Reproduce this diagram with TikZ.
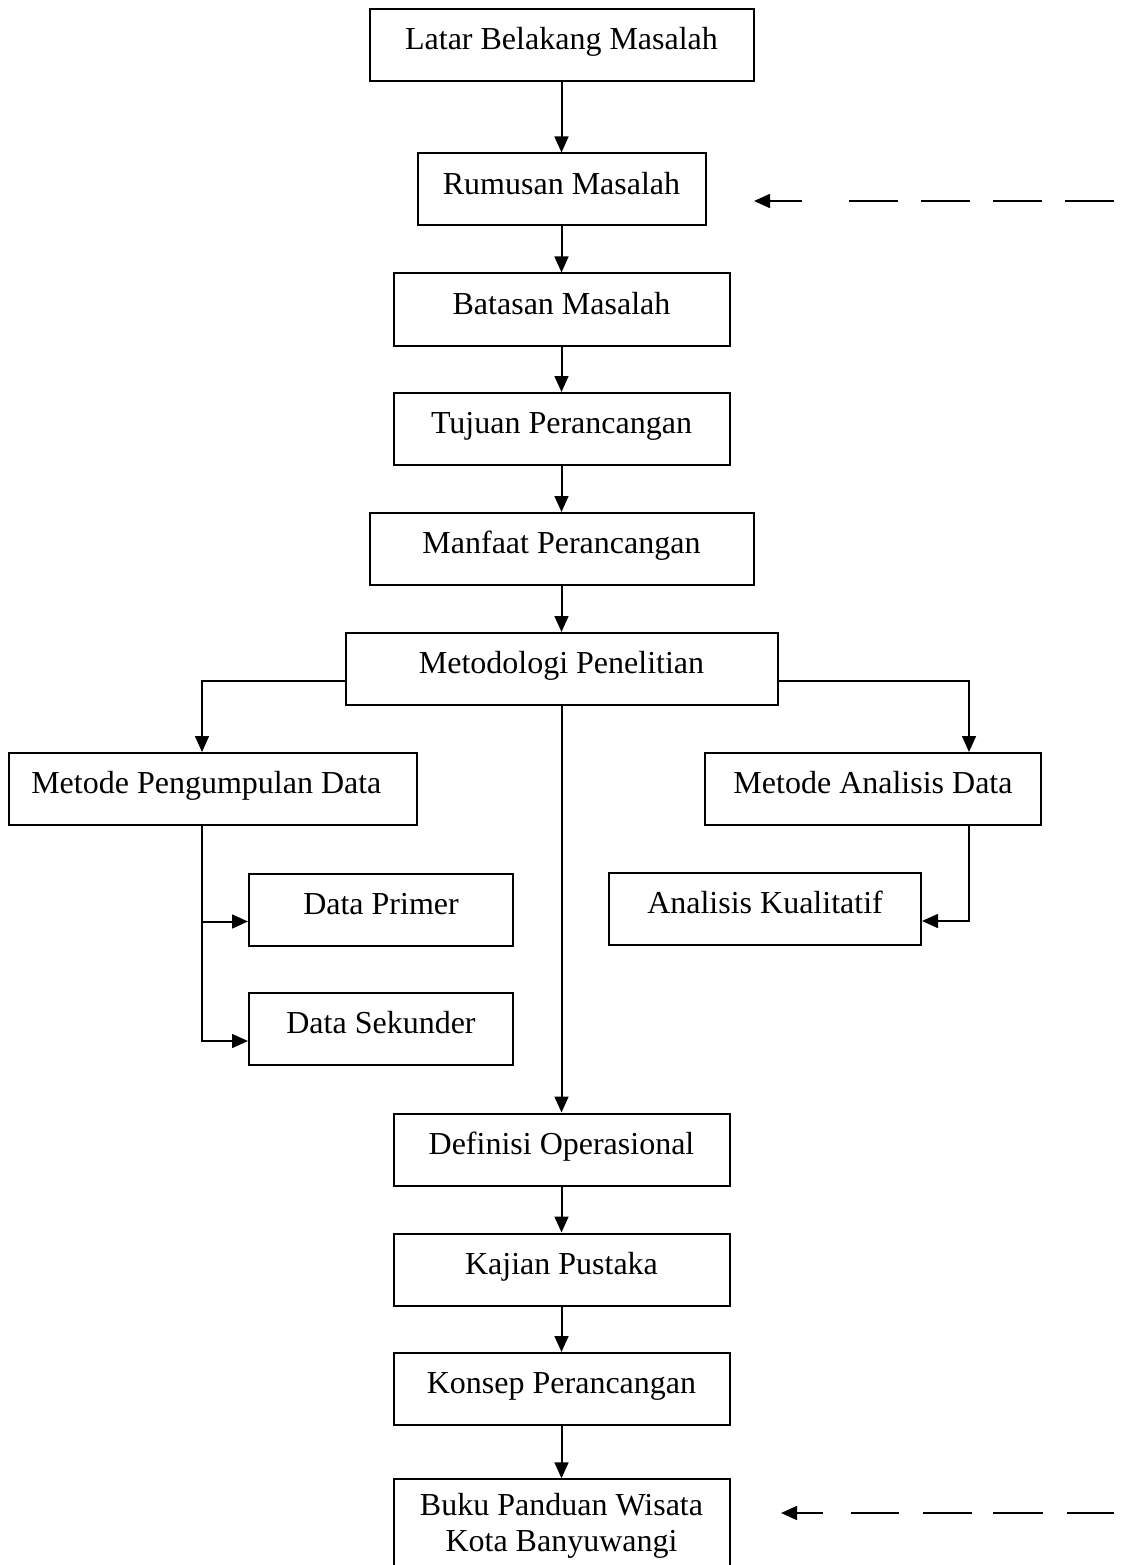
\documentclass[tikz,border=0pt]{standalone}
\usepackage{fontspec}
\setmainfont{Liberation Serif}
\usetikzlibrary{arrows.meta,positioning,calc}

\tikzset{
  box/.style={draw,line width=0.75pt,minimum height=27pt,inner sep=2pt,
    text height=7.6pt,text depth=4pt,
    font=\fontsize{12}{13.5}\selectfont,align=center},
  arr/.style={line width=0.75pt,-{Triangle[length=6pt,width=5.2pt]}},
  noteA/.style={arr,dash pattern=on 18.4pt off 8.6pt on 18.4pt off 8.6pt on 18.4pt off 8.6pt on 18.4pt off 17.6pt on 40pt off 10pt},
  noteB/.style={arr,dash pattern=on 17.6pt off 9pt on 18.8pt off 7.9pt on 18.4pt off 9pt on 18pt off 10.5pt on 40pt off 10pt}
}

\begin{document}
\begin{tikzpicture}[x=0.375pt,y=-0.375pt]
  \useasboundingbox (0,0) rectangle (1136,1565);

  % main column
  \node[box,minimum width=144pt] (latar) at (561.5,45) {Latar Belakang Masalah};
  \node[box,minimum width=108pt] (rumusan) at (561.5,189.5) {Rumusan Masalah};
  \node[box,minimum width=126pt] (batasan) at (561.5,309.5) {Batasan Masalah};
  \node[box,minimum width=126pt] (tujuan) at (561.5,429) {Tujuan Perancangan};
  \node[box,minimum width=144pt] (manfaat) at (561.5,549) {Manfaat Perancangan};
  \node[box,minimum width=162pt] (metodologi) at (561.5,669) {Metodologi Penelitian};

  % branches
  \node[box,minimum width=153pt] (pengumpulan) at (213,789) {Metode Pengumpulan Data\hspace{5pt}};
  \node[box,minimum width=126pt] (analisis) at (873,789) {Metode Analisis Data};
  \node[box,minimum width=99pt] (primer) at (381,909.5) {Data Primer};
  \node[box,minimum width=99pt] (sekunder) at (381,1029) {Data Sekunder};
  \node[box,minimum width=117pt] (kualitatif) at (765,909) {Analisis Kualitatif};

  \node[box,minimum width=126pt] (definisi) at (561.5,1149.5) {Definisi Operasional};
  \node[box,minimum width=126pt] (kajian) at (561.5,1269.5) {Kajian Pustaka};
  \node[box,minimum width=126pt] (konsep) at (561.5,1389) {Konsep Perancangan};
  \node[box,minimum width=126pt,minimum height=35pt,text height=,text depth=] (buku) at (561.5,1526) {Buku Panduan Wisata\\Kota Banyuwangi};

  \coordinate (lbus) at (202,0);
  \coordinate (rbus) at (969,0);
  \coordinate (noteAstart) at (1114,201);
  \coordinate (noteAend) at (754,201);
  \coordinate (noteBstart) at (1114,1513);
  \coordinate (noteBend) at (781,1513);

  % connectors
  \foreach \a/\b in {latar/rumusan,rumusan/batasan,batasan/tujuan,tujuan/manfaat,
    manfaat/metodologi,metodologi/definisi,definisi/kajian,kajian/konsep,konsep/buku}
    \draw[arr] (\a) -- (\b);

  \draw[arr] ([yshift=-4.5pt]metodologi.west) -| (pengumpulan.north -| lbus);
  \draw[arr] ([yshift=-4.5pt]metodologi.east) -| (analisis.north -| rbus);
  \draw[arr] (pengumpulan.south -| lbus) |- ([yshift=-4.5pt]primer.west);
  \draw[arr] (pengumpulan.south -| lbus) |- ([yshift=-4.5pt]sekunder.west);
  \draw[arr] (analisis.south -| rbus) |- ([yshift=-4.5pt]kualitatif.east);

  \draw[noteA] (noteAstart) -- (noteAend);
  \draw[noteB] (noteBstart) -- (noteBend);
\end{tikzpicture}
\end{document}
